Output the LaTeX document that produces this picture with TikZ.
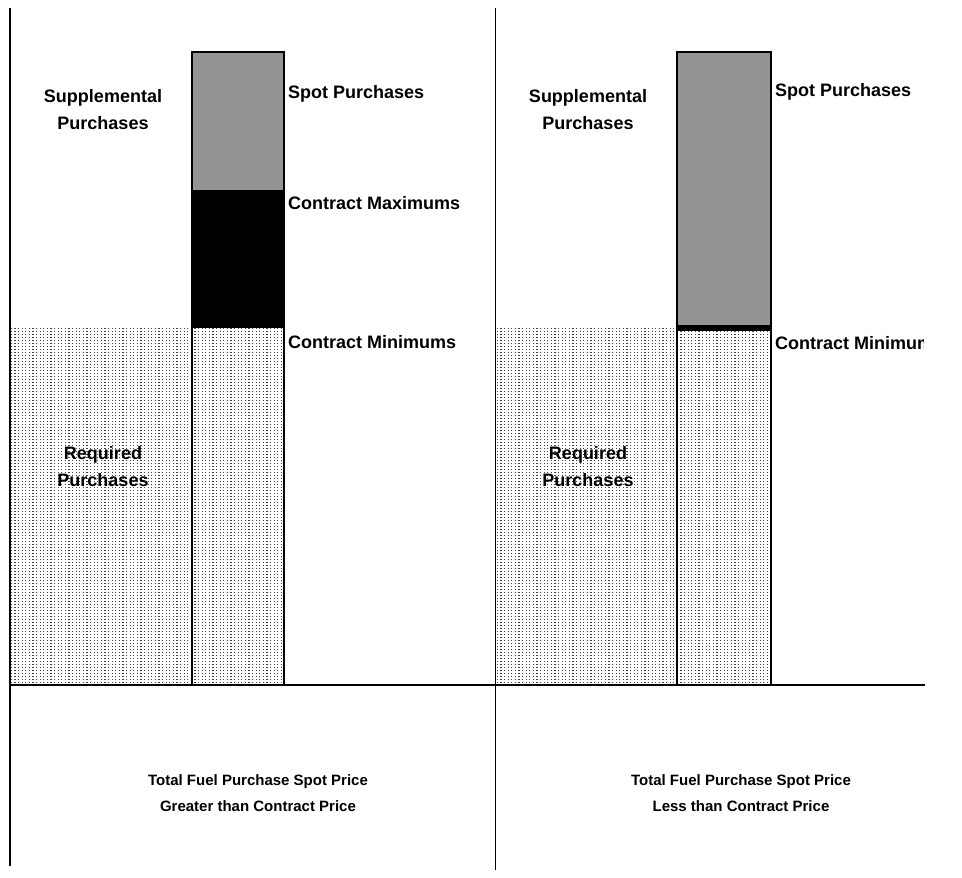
\documentclass[tikz,border=0pt]{standalone}
\usepackage{fontspec}
\setmainfont{Liberation Sans}
\usetikzlibrary{patterns}
\pgfdeclarepatternformonly{bigdots}{\pgfqpoint{-1pt}{-1pt}}{\pgfqpoint{3pt}{3pt}}{\pgfqpoint{3.6pt}{3pt}}{%
    \pgfpathrectangle{\pgfqpoint{0pt}{0pt}}{\pgfqpoint{1.1pt}{1.1pt}}%
    \pgfusepath{fill}%
}
\begin{document}
\begin{tikzpicture}[x=1pt,y=-1pt,
    lbl/.style={font=\bfseries\fontsize{18}{27}\selectfont, inner sep=0pt, align=center},
    captxt/.style={font=\bfseries\fontsize{15}{26}\selectfont, inner sep=0pt, align=center},
    dotfill/.style={pattern=bigdots, pattern color=black!75},
    spotfill/.style={fill=black!42},
    barline/.style={line width=1.5pt}]
        \useasboundingbox (0,0) rectangle (962,878);
        % frame and axis
        \draw[line width=1.2pt] (10,8) -- (10,866);
        \draw[line width=1pt] (495,8) -- (495,870);
        \draw[line width=1.6pt] (10,685) -- (925,685);
        % the two panels share the required purchases
        \foreach \s/\p in {0/L,485/R}{
            \begin{scope}[shift={(\s,0)}]
            \fill[dotfill] (10,328) rectangle (192,684);
            \node[lbl] (req\p) at (103,467) {Required\\Purchases};
            \node[lbl] (supp\p) at (103,110) {Supplemental\\Purchases};
            \end{scope}
            }
        % left bar: spot price greater than contract price
        \fill[spotfill] (192,52) rectangle (284,190);
        \fill[black] (192,190) rectangle (284,328);
        \fill[dotfill] (192,328) rectangle (284,684);
        \draw[barline] (192,684) -- (192,52) -- (284,52) -- (284,684);
        \node[lbl, anchor=west] (spotL) at (288,94) {Spot Purchases};
        \node[lbl, anchor=west] (maxL) at (288,203) {Contract Maximums};
        \node[lbl, anchor=west] (minL) at (288,342) {Contract Minimums};
        % right bar: spot price less than contract price
        \fill[spotfill] (677,52) rectangle (771,325);
        \fill[black] (677,325) rectangle (771,331);
        \fill[dotfill] (677,331) rectangle (771,684);
        \draw[barline] (677,684) -- (677,52) -- (771,52) -- (771,684);
        \node[lbl, anchor=west] (spotR) at (775,92) {Spot Purchases};
        \begin{scope}
        \clip (0,0) rectangle (923,878);
        \node[lbl, anchor=west] (minR) at (775,343) {Contract Minimums};
        \end{scope}
        % captions
        \node[captxt] (capL) at (258,793) {Total Fuel Purchase Spot Price\\Greater than Contract Price};
        \node[captxt] (capR) at (741,793) {Total Fuel Purchase Spot Price\\Less than Contract Price};
    \end{tikzpicture}
\end{document}
